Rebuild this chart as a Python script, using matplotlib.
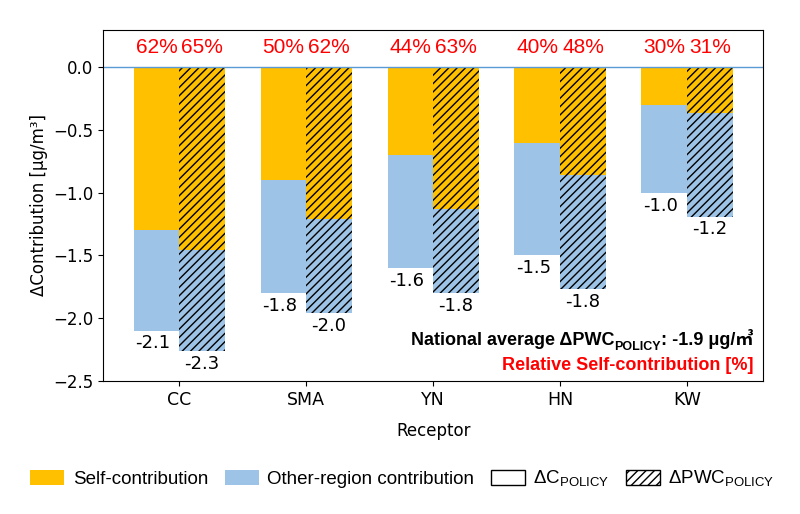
import numpy as np
import matplotlib
matplotlib.use("Agg")
import matplotlib.pyplot as plt
from matplotlib.patches import Patch

# ── Data ──────────────────────────────────────────────────────────────────────
receptors   = ["CC", "SMA", "YN", "HN", "KW"]
self_c      = [-1.30, -0.90, -0.70, -0.60, -0.30]   # ΔC_POLICY self
total_c     = [-2.10, -1.80, -1.60, -1.50, -1.00]   # ΔC_POLICY total
self_pwc    = [-1.46, -1.21, -1.13, -0.86, -0.36]   # ΔPWC_POLICY self
total_pwc   = [-2.26, -1.96, -1.80, -1.77, -1.19]   # ΔPWC_POLICY total
label_c     = ["-2.1", "-1.8", "-1.6", "-1.5", "-1.0"]
label_pwc   = ["-2.3", "-2.0", "-1.8", "-1.8", "-1.2"]
pct_c       = ["62%", "50%", "44%", "40%", "30%"]
pct_pwc     = ["65%", "62%", "63%", "48%", "31%"]

ORANGE = "#FFC000"
BLUE   = "#9DC3E6"
ARIAL  = ["Liberation Sans", "DejaVu Sans"]
plt.rcParams["hatch.linewidth"] = 1.0
plt.rcParams["mathtext.fontset"] = "custom"
plt.rcParams["mathtext.rm"] = "Liberation Sans"

fig = plt.figure(figsize=(8, 5.14), dpi=100)
ax = fig.add_axes([0.129, 0.259, 0.825, 0.683])

x = np.arange(len(receptors))
w = 0.36
other_c   = np.array(total_c) - np.array(self_c)
other_pwc = np.array(total_pwc) - np.array(self_pwc)

# ΔC_POLICY bars (plain)
ax.bar(x - w/2, self_c, w, color=ORANGE, linewidth=0)
ax.bar(x - w/2, other_c, w, bottom=self_c, color=BLUE, linewidth=0)
# ΔPWC_POLICY bars (hatched)
ax.bar(x + w/2, self_pwc, w, color=ORANGE, edgecolor="black", linewidth=0, hatch="////")
ax.bar(x + w/2, other_pwc, w, bottom=self_pwc, color=BLUE, edgecolor="black",
       linewidth=0, hatch="////")

for i in range(len(receptors)):
    ax.text(x[i] - w/2 - 0.03, total_c[i] - 0.03, label_c[i], ha="center", va="top",
            fontsize=13)
    ax.text(x[i] + w/2, total_pwc[i] - 0.03, label_pwc[i], ha="center", va="top",
            fontsize=13)
    ax.text(x[i] - w/2, 0.16, pct_c[i], ha="center", va="center", fontsize=15,
            color="red", family=ARIAL)
    ax.text(x[i] + w/2, 0.16, pct_pwc[i], ha="center", va="center", fontsize=15,
            color="red", family=ARIAL)

ax.axhline(0, color="#5B9BD5", linewidth=1)

ax.set_xlim(-0.6, 4.6)
ax.set_ylim(-2.5, 0.3)
ax.set_yticks([0.0, -0.5, -1.0, -1.5, -2.0, -2.5])
ax.set_xticks(x)
ax.set_xticklabels(receptors)
ax.tick_params(axis="y", labelsize=12)
ax.tick_params(axis="x", labelsize=12.5)
ax.set_ylabel("ΔContribution [μg/m³]", fontsize=12)
ax.set_xlabel("Receptor", fontsize=12, labelpad=10)

# ── Annotation: national average (built from pieces so ㎥ can fall back) ─────
bold = dict(fontsize=13, fontweight="bold",
            family=["Liberation Sans", "Noto Sans CJK KR", "DejaVu Sans"])
t3 = ax.text(0.985, 0.09, ": -1.9 μg/㎥", transform=ax.transAxes,
             ha="right", va="bottom", **bold)
t2 = ax.annotate("POLICY", xy=(0, 0), xycoords=t3, xytext=(0, -3),
                 textcoords="offset points", ha="right", va="bottom",
                 fontsize=9, fontweight="bold", family=["Liberation Sans"])
t1 = ax.annotate("National average ΔPWC", xy=(0, 0), xycoords=t2, xytext=(0, 3),
                 textcoords="offset points", ha="right", va="bottom", **bold)
ax.text(0.985, 0.043, "Relative Self-contribution [%]", transform=ax.transAxes,
        ha="right", va="center", fontsize=13, fontweight="bold", color="red",
        family=["Liberation Sans"])

handles = [
    Patch(facecolor=ORANGE, edgecolor="none"),
    Patch(facecolor=BLUE, edgecolor="none"),
    Patch(facecolor="white", edgecolor="black"),
    Patch(facecolor="white", edgecolor="black", hatch="////"),
]
labels = ["Self-contribution", "Other-region contribution",
          "ΔC$_{\\mathrm{POLICY}}$", "ΔPWC$_{\\mathrm{POLICY}}$"]
fig.legend(handles, labels, loc="center left", bbox_to_anchor=(0.017, 0.068), ncol=4,
           frameon=False, prop=dict(size=13.5, family=ARIAL),
           handlelength=1.8, handleheight=0.8, columnspacing=0.9, handletextpad=0.45)

plt.savefig("out.png", dpi=100)
